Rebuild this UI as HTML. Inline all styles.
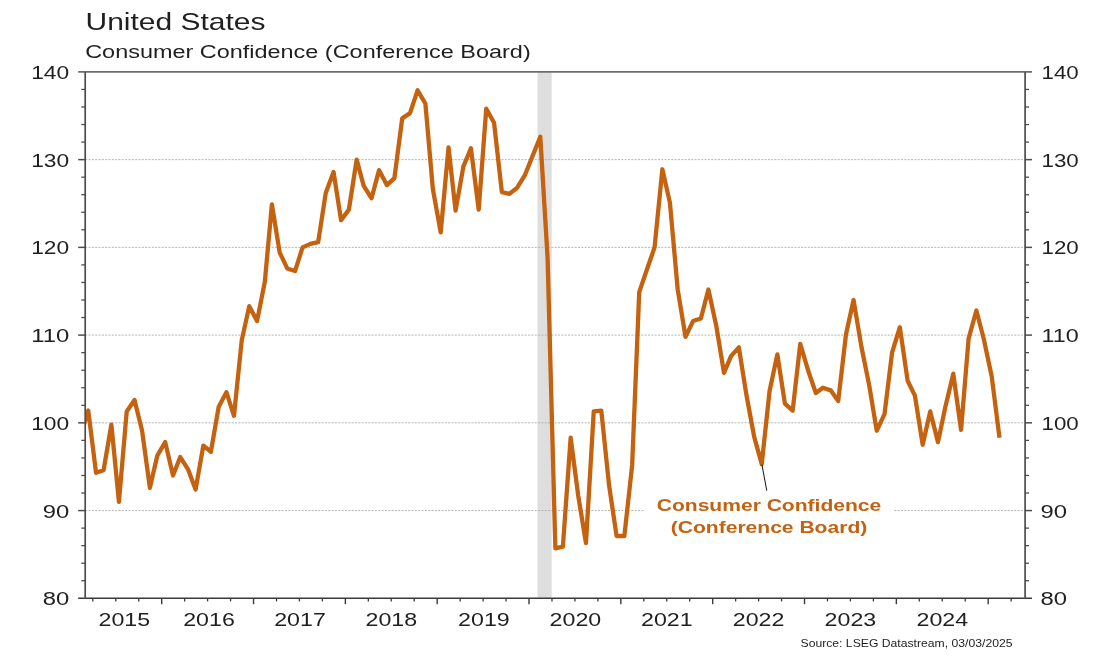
<!DOCTYPE html>
<html lang="en"><head><meta charset="utf-8"><title>United States - Consumer Confidence (Conference Board)</title>
<style>html,body{margin:0;padding:0;background:#fff}body{width:1103px;height:662px;overflow:hidden}svg{display:block;filter:blur(0.4px)}</style>
</head><body>
<svg width="1103" height="662" viewBox="0 0 1103 662" font-family="'Liberation Sans', Arial, sans-serif">
<rect width="1103" height="662" fill="#fff"/>
<defs><clipPath id="plot"><rect x="85.2" y="71.9" width="939.9" height="526.4"/></clipPath></defs>
<rect x="537.5" y="71.9" width="14.2" height="526.4" fill="#dedede"/>
<line x1="85.2" x2="1025.1" y1="510.57" y2="510.57" stroke="#b4b4b4" stroke-width="1" stroke-dasharray="2 1.33"/>
<line x1="85.2" x2="1025.1" y1="422.83" y2="422.83" stroke="#b4b4b4" stroke-width="1" stroke-dasharray="2 1.33"/>
<line x1="85.2" x2="1025.1" y1="335.10" y2="335.10" stroke="#b4b4b4" stroke-width="1" stroke-dasharray="2 1.33"/>
<line x1="85.2" x2="1025.1" y1="247.37" y2="247.37" stroke="#b4b4b4" stroke-width="1" stroke-dasharray="2 1.33"/>
<line x1="85.2" x2="1025.1" y1="159.63" y2="159.63" stroke="#b4b4b4" stroke-width="1" stroke-dasharray="2 1.33"/>
<rect x="645" y="494" width="249" height="46" fill="#fff"/>
<path d="M81.19 433.36 L88.24 410.55 L96.04 472.84 L103.58 470.21 L111.38 424.59 L118.93 501.79 L126.73 411.43 L134.53 400.02 L142.08 430.73 L149.88 487.76 L157.42 455.29 L165.21 442.13 L172.99 475.47 L180.27 457.05 L188.04 469.33 L195.57 489.51 L203.35 445.64 L210.88 451.79 L218.65 407.04 L226.43 392.13 L233.96 415.81 L241.74 340.36 L249.26 306.15 L257.05 321.06 L264.85 281.58 L271.90 204.38 L279.70 252.63 L287.24 268.42 L295.04 271.05 L302.59 247.37 L310.39 243.86 L318.19 242.10 L325.74 192.97 L333.54 171.92 L341.08 220.17 L348.88 209.64 L356.68 159.63 L363.73 185.95 L371.53 198.24 L379.07 170.16 L386.87 185.08 L394.42 178.06 L402.22 118.40 L410.02 113.13 L417.57 90.32 L425.37 103.48 L432.91 189.46 L440.71 232.45 L448.51 147.35 L455.56 210.52 L463.36 166.65 L470.90 148.23 L478.70 209.64 L486.25 108.75 L494.05 122.79 L501.85 192.09 L509.40 193.85 L517.20 187.71 L524.74 175.43 L532.53 156.12 L540.31 136.82 L547.59 257.89 L555.36 548.29 L562.89 546.54 L570.67 437.75 L578.20 495.65 L585.97 543.03 L593.75 411.43 L601.28 410.55 L609.06 485.12 L616.58 536.01 L624.37 536.01 L632.17 464.95 L639.22 292.11 L647.02 269.30 L654.56 247.37 L662.36 169.28 L669.91 202.62 L677.71 289.48 L685.51 336.85 L693.06 321.06 L700.86 318.43 L708.40 289.48 L716.20 325.45 L724.00 372.83 L731.05 356.16 L738.85 347.38 L746.39 394.76 L754.19 436.87 L761.74 464.07 L769.54 391.25 L777.34 354.40 L784.89 403.53 L792.69 410.55 L800.23 343.87 L808.03 370.19 L815.83 393.00 L822.88 387.74 L830.68 390.37 L838.22 400.90 L846.02 334.22 L853.57 300.01 L861.37 346.51 L869.17 385.11 L876.72 430.73 L884.52 414.06 L892.06 352.65 L899.85 327.20 L907.63 380.72 L914.91 395.64 L922.68 444.77 L930.21 411.43 L937.99 442.13 L945.52 406.16 L953.29 373.70 L961.07 429.85 L968.60 338.61 L976.38 310.53 L983.90 339.49 L991.69 376.33 L999.49 437.75" fill="none" stroke="#C4620F" stroke-width="4.3" stroke-linejoin="round" stroke-linecap="butt" clip-path="url(#plot)"/>
<line x1="78.2" x2="1032" y1="71.90" y2="71.90" stroke="#6e6e6e" stroke-width="1.7"/>
<line x1="78.2" x2="1032" y1="598.30" y2="598.30" stroke="#3a3a3a" stroke-width="1.6"/>
<line x1="85.20" x2="85.20" y1="71.90" y2="599.10" stroke="#4d4d4d" stroke-width="1.7"/>
<line x1="1025.10" x2="1025.10" y1="71.90" y2="599.10" stroke="#4d4d4d" stroke-width="1.7"/>
<line x1="81.3" x2="85.2" y1="580.75" y2="580.75" stroke="#4d4d4d" stroke-width="1.3"/>
<line x1="1025.1" x2="1029" y1="580.75" y2="580.75" stroke="#4d4d4d" stroke-width="1.3"/>
<line x1="81.3" x2="85.2" y1="563.21" y2="563.21" stroke="#4d4d4d" stroke-width="1.3"/>
<line x1="1025.1" x2="1029" y1="563.21" y2="563.21" stroke="#4d4d4d" stroke-width="1.3"/>
<line x1="81.3" x2="85.2" y1="545.66" y2="545.66" stroke="#4d4d4d" stroke-width="1.3"/>
<line x1="1025.1" x2="1029" y1="545.66" y2="545.66" stroke="#4d4d4d" stroke-width="1.3"/>
<line x1="81.3" x2="85.2" y1="528.11" y2="528.11" stroke="#4d4d4d" stroke-width="1.3"/>
<line x1="1025.1" x2="1029" y1="528.11" y2="528.11" stroke="#4d4d4d" stroke-width="1.3"/>
<line x1="81.3" x2="85.2" y1="493.02" y2="493.02" stroke="#4d4d4d" stroke-width="1.3"/>
<line x1="1025.1" x2="1029" y1="493.02" y2="493.02" stroke="#4d4d4d" stroke-width="1.3"/>
<line x1="81.3" x2="85.2" y1="475.47" y2="475.47" stroke="#4d4d4d" stroke-width="1.3"/>
<line x1="1025.1" x2="1029" y1="475.47" y2="475.47" stroke="#4d4d4d" stroke-width="1.3"/>
<line x1="81.3" x2="85.2" y1="457.93" y2="457.93" stroke="#4d4d4d" stroke-width="1.3"/>
<line x1="1025.1" x2="1029" y1="457.93" y2="457.93" stroke="#4d4d4d" stroke-width="1.3"/>
<line x1="81.3" x2="85.2" y1="440.38" y2="440.38" stroke="#4d4d4d" stroke-width="1.3"/>
<line x1="1025.1" x2="1029" y1="440.38" y2="440.38" stroke="#4d4d4d" stroke-width="1.3"/>
<line x1="81.3" x2="85.2" y1="405.29" y2="405.29" stroke="#4d4d4d" stroke-width="1.3"/>
<line x1="1025.1" x2="1029" y1="405.29" y2="405.29" stroke="#4d4d4d" stroke-width="1.3"/>
<line x1="81.3" x2="85.2" y1="387.74" y2="387.74" stroke="#4d4d4d" stroke-width="1.3"/>
<line x1="1025.1" x2="1029" y1="387.74" y2="387.74" stroke="#4d4d4d" stroke-width="1.3"/>
<line x1="81.3" x2="85.2" y1="370.19" y2="370.19" stroke="#4d4d4d" stroke-width="1.3"/>
<line x1="1025.1" x2="1029" y1="370.19" y2="370.19" stroke="#4d4d4d" stroke-width="1.3"/>
<line x1="81.3" x2="85.2" y1="352.65" y2="352.65" stroke="#4d4d4d" stroke-width="1.3"/>
<line x1="1025.1" x2="1029" y1="352.65" y2="352.65" stroke="#4d4d4d" stroke-width="1.3"/>
<line x1="81.3" x2="85.2" y1="317.55" y2="317.55" stroke="#4d4d4d" stroke-width="1.3"/>
<line x1="1025.1" x2="1029" y1="317.55" y2="317.55" stroke="#4d4d4d" stroke-width="1.3"/>
<line x1="81.3" x2="85.2" y1="300.01" y2="300.01" stroke="#4d4d4d" stroke-width="1.3"/>
<line x1="1025.1" x2="1029" y1="300.01" y2="300.01" stroke="#4d4d4d" stroke-width="1.3"/>
<line x1="81.3" x2="85.2" y1="282.46" y2="282.46" stroke="#4d4d4d" stroke-width="1.3"/>
<line x1="1025.1" x2="1029" y1="282.46" y2="282.46" stroke="#4d4d4d" stroke-width="1.3"/>
<line x1="81.3" x2="85.2" y1="264.91" y2="264.91" stroke="#4d4d4d" stroke-width="1.3"/>
<line x1="1025.1" x2="1029" y1="264.91" y2="264.91" stroke="#4d4d4d" stroke-width="1.3"/>
<line x1="81.3" x2="85.2" y1="229.82" y2="229.82" stroke="#4d4d4d" stroke-width="1.3"/>
<line x1="1025.1" x2="1029" y1="229.82" y2="229.82" stroke="#4d4d4d" stroke-width="1.3"/>
<line x1="81.3" x2="85.2" y1="212.27" y2="212.27" stroke="#4d4d4d" stroke-width="1.3"/>
<line x1="1025.1" x2="1029" y1="212.27" y2="212.27" stroke="#4d4d4d" stroke-width="1.3"/>
<line x1="81.3" x2="85.2" y1="194.73" y2="194.73" stroke="#4d4d4d" stroke-width="1.3"/>
<line x1="1025.1" x2="1029" y1="194.73" y2="194.73" stroke="#4d4d4d" stroke-width="1.3"/>
<line x1="81.3" x2="85.2" y1="177.18" y2="177.18" stroke="#4d4d4d" stroke-width="1.3"/>
<line x1="1025.1" x2="1029" y1="177.18" y2="177.18" stroke="#4d4d4d" stroke-width="1.3"/>
<line x1="81.3" x2="85.2" y1="142.09" y2="142.09" stroke="#4d4d4d" stroke-width="1.3"/>
<line x1="1025.1" x2="1029" y1="142.09" y2="142.09" stroke="#4d4d4d" stroke-width="1.3"/>
<line x1="81.3" x2="85.2" y1="124.54" y2="124.54" stroke="#4d4d4d" stroke-width="1.3"/>
<line x1="1025.1" x2="1029" y1="124.54" y2="124.54" stroke="#4d4d4d" stroke-width="1.3"/>
<line x1="81.3" x2="85.2" y1="106.99" y2="106.99" stroke="#4d4d4d" stroke-width="1.3"/>
<line x1="1025.1" x2="1029" y1="106.99" y2="106.99" stroke="#4d4d4d" stroke-width="1.3"/>
<line x1="81.3" x2="85.2" y1="89.45" y2="89.45" stroke="#4d4d4d" stroke-width="1.3"/>
<line x1="1025.1" x2="1029" y1="89.45" y2="89.45" stroke="#4d4d4d" stroke-width="1.3"/>
<line x1="78.2" x2="85.2" y1="510.57" y2="510.57" stroke="#4d4d4d" stroke-width="1.5"/>
<line x1="1025.1" x2="1032" y1="510.57" y2="510.57" stroke="#4d4d4d" stroke-width="1.5"/>
<line x1="78.2" x2="85.2" y1="422.83" y2="422.83" stroke="#4d4d4d" stroke-width="1.5"/>
<line x1="1025.1" x2="1032" y1="422.83" y2="422.83" stroke="#4d4d4d" stroke-width="1.5"/>
<line x1="78.2" x2="85.2" y1="335.10" y2="335.10" stroke="#4d4d4d" stroke-width="1.5"/>
<line x1="1025.1" x2="1032" y1="335.10" y2="335.10" stroke="#4d4d4d" stroke-width="1.5"/>
<line x1="78.2" x2="85.2" y1="247.37" y2="247.37" stroke="#4d4d4d" stroke-width="1.5"/>
<line x1="1025.1" x2="1032" y1="247.37" y2="247.37" stroke="#4d4d4d" stroke-width="1.5"/>
<line x1="78.2" x2="85.2" y1="159.63" y2="159.63" stroke="#4d4d4d" stroke-width="1.5"/>
<line x1="1025.1" x2="1032" y1="159.63" y2="159.63" stroke="#4d4d4d" stroke-width="1.5"/>
<line x1="92.83" x2="92.83" y1="598.3" y2="601.4" stroke="#3a3a3a" stroke-width="1.3"/>
<line x1="115.78" x2="115.78" y1="598.3" y2="601.4" stroke="#3a3a3a" stroke-width="1.3"/>
<line x1="138.74" x2="138.74" y1="598.3" y2="601.4" stroke="#3a3a3a" stroke-width="1.3"/>
<line x1="161.70" x2="161.70" y1="598.3" y2="604.2" stroke="#3a3a3a" stroke-width="1.4"/>
<line x1="184.66" x2="184.66" y1="598.3" y2="601.4" stroke="#3a3a3a" stroke-width="1.3"/>
<line x1="207.61" x2="207.61" y1="598.3" y2="601.4" stroke="#3a3a3a" stroke-width="1.3"/>
<line x1="230.57" x2="230.57" y1="598.3" y2="601.4" stroke="#3a3a3a" stroke-width="1.3"/>
<line x1="253.53" x2="253.53" y1="598.3" y2="604.2" stroke="#3a3a3a" stroke-width="1.4"/>
<line x1="276.49" x2="276.49" y1="598.3" y2="601.4" stroke="#3a3a3a" stroke-width="1.3"/>
<line x1="299.44" x2="299.44" y1="598.3" y2="601.4" stroke="#3a3a3a" stroke-width="1.3"/>
<line x1="322.40" x2="322.40" y1="598.3" y2="601.4" stroke="#3a3a3a" stroke-width="1.3"/>
<line x1="345.36" x2="345.36" y1="598.3" y2="604.2" stroke="#3a3a3a" stroke-width="1.4"/>
<line x1="368.32" x2="368.32" y1="598.3" y2="601.4" stroke="#3a3a3a" stroke-width="1.3"/>
<line x1="391.27" x2="391.27" y1="598.3" y2="601.4" stroke="#3a3a3a" stroke-width="1.3"/>
<line x1="414.23" x2="414.23" y1="598.3" y2="601.4" stroke="#3a3a3a" stroke-width="1.3"/>
<line x1="437.19" x2="437.19" y1="598.3" y2="604.2" stroke="#3a3a3a" stroke-width="1.4"/>
<line x1="460.15" x2="460.15" y1="598.3" y2="601.4" stroke="#3a3a3a" stroke-width="1.3"/>
<line x1="483.10" x2="483.10" y1="598.3" y2="601.4" stroke="#3a3a3a" stroke-width="1.3"/>
<line x1="506.06" x2="506.06" y1="598.3" y2="601.4" stroke="#3a3a3a" stroke-width="1.3"/>
<line x1="529.02" x2="529.02" y1="598.3" y2="604.2" stroke="#3a3a3a" stroke-width="1.4"/>
<line x1="551.98" x2="551.98" y1="598.3" y2="601.4" stroke="#3a3a3a" stroke-width="1.3"/>
<line x1="574.93" x2="574.93" y1="598.3" y2="601.4" stroke="#3a3a3a" stroke-width="1.3"/>
<line x1="597.89" x2="597.89" y1="598.3" y2="601.4" stroke="#3a3a3a" stroke-width="1.3"/>
<line x1="620.85" x2="620.85" y1="598.3" y2="604.2" stroke="#3a3a3a" stroke-width="1.4"/>
<line x1="643.81" x2="643.81" y1="598.3" y2="601.4" stroke="#3a3a3a" stroke-width="1.3"/>
<line x1="666.76" x2="666.76" y1="598.3" y2="601.4" stroke="#3a3a3a" stroke-width="1.3"/>
<line x1="689.72" x2="689.72" y1="598.3" y2="601.4" stroke="#3a3a3a" stroke-width="1.3"/>
<line x1="712.68" x2="712.68" y1="598.3" y2="604.2" stroke="#3a3a3a" stroke-width="1.4"/>
<line x1="735.64" x2="735.64" y1="598.3" y2="601.4" stroke="#3a3a3a" stroke-width="1.3"/>
<line x1="758.60" x2="758.60" y1="598.3" y2="601.4" stroke="#3a3a3a" stroke-width="1.3"/>
<line x1="781.55" x2="781.55" y1="598.3" y2="601.4" stroke="#3a3a3a" stroke-width="1.3"/>
<line x1="804.51" x2="804.51" y1="598.3" y2="604.2" stroke="#3a3a3a" stroke-width="1.4"/>
<line x1="827.47" x2="827.47" y1="598.3" y2="601.4" stroke="#3a3a3a" stroke-width="1.3"/>
<line x1="850.42" x2="850.42" y1="598.3" y2="601.4" stroke="#3a3a3a" stroke-width="1.3"/>
<line x1="873.38" x2="873.38" y1="598.3" y2="601.4" stroke="#3a3a3a" stroke-width="1.3"/>
<line x1="896.34" x2="896.34" y1="598.3" y2="604.2" stroke="#3a3a3a" stroke-width="1.4"/>
<line x1="919.30" x2="919.30" y1="598.3" y2="601.4" stroke="#3a3a3a" stroke-width="1.3"/>
<line x1="942.25" x2="942.25" y1="598.3" y2="601.4" stroke="#3a3a3a" stroke-width="1.3"/>
<line x1="965.21" x2="965.21" y1="598.3" y2="601.4" stroke="#3a3a3a" stroke-width="1.3"/>
<line x1="988.17" x2="988.17" y1="598.3" y2="604.2" stroke="#3a3a3a" stroke-width="1.4"/>
<line x1="1011.13" x2="1011.13" y1="598.3" y2="601.4" stroke="#3a3a3a" stroke-width="1.3"/>
<text x="69.2" y="605.3" font-size="18.00" text-anchor="end" textLength="26.5" lengthAdjust="spacingAndGlyphs" fill="#1f1f1f">80</text>
<text x="1040.4" y="605.3" font-size="18.00" text-anchor="start" textLength="26.5" lengthAdjust="spacingAndGlyphs" fill="#1f1f1f">80</text>
<text x="69.2" y="517.6" font-size="18.00" text-anchor="end" textLength="26.5" lengthAdjust="spacingAndGlyphs" fill="#1f1f1f">90</text>
<text x="1040.4" y="517.6" font-size="18.00" text-anchor="start" textLength="26.5" lengthAdjust="spacingAndGlyphs" fill="#1f1f1f">90</text>
<text x="69.2" y="429.8" font-size="18.00" text-anchor="end" textLength="38.0" lengthAdjust="spacingAndGlyphs" fill="#1f1f1f">100</text>
<text x="1041.5" y="429.8" font-size="18.00" text-anchor="start" textLength="37.2" lengthAdjust="spacingAndGlyphs" fill="#1f1f1f">100</text>
<text x="69.2" y="342.1" font-size="18.00" text-anchor="end" textLength="38.0" lengthAdjust="spacingAndGlyphs" fill="#1f1f1f">110</text>
<text x="1041.5" y="342.1" font-size="18.00" text-anchor="start" textLength="37.2" lengthAdjust="spacingAndGlyphs" fill="#1f1f1f">110</text>
<text x="69.2" y="254.4" font-size="18.00" text-anchor="end" textLength="38.0" lengthAdjust="spacingAndGlyphs" fill="#1f1f1f">120</text>
<text x="1041.5" y="254.4" font-size="18.00" text-anchor="start" textLength="37.2" lengthAdjust="spacingAndGlyphs" fill="#1f1f1f">120</text>
<text x="69.2" y="166.6" font-size="18.00" text-anchor="end" textLength="38.0" lengthAdjust="spacingAndGlyphs" fill="#1f1f1f">130</text>
<text x="1041.5" y="166.6" font-size="18.00" text-anchor="start" textLength="37.2" lengthAdjust="spacingAndGlyphs" fill="#1f1f1f">130</text>
<text x="69.2" y="78.9" font-size="18.00" text-anchor="end" textLength="38.0" lengthAdjust="spacingAndGlyphs" fill="#1f1f1f">140</text>
<text x="1041.5" y="78.9" font-size="18.00" text-anchor="start" textLength="37.2" lengthAdjust="spacingAndGlyphs" fill="#1f1f1f">140</text>
<text x="124.3" y="625.8" font-size="17.80" text-anchor="middle" textLength="51.6" lengthAdjust="spacingAndGlyphs" fill="#1f1f1f">2015</text>
<text x="209.0" y="625.8" font-size="17.80" text-anchor="middle" textLength="51.6" lengthAdjust="spacingAndGlyphs" fill="#1f1f1f">2016</text>
<text x="300.0" y="625.8" font-size="17.80" text-anchor="middle" textLength="51.6" lengthAdjust="spacingAndGlyphs" fill="#1f1f1f">2017</text>
<text x="391.3" y="625.8" font-size="17.80" text-anchor="middle" textLength="51.6" lengthAdjust="spacingAndGlyphs" fill="#1f1f1f">2018</text>
<text x="483.9" y="625.8" font-size="17.80" text-anchor="middle" textLength="51.6" lengthAdjust="spacingAndGlyphs" fill="#1f1f1f">2019</text>
<text x="575.4" y="625.8" font-size="17.80" text-anchor="middle" textLength="51.6" lengthAdjust="spacingAndGlyphs" fill="#1f1f1f">2020</text>
<text x="666.8" y="625.8" font-size="17.80" text-anchor="middle" textLength="51.6" lengthAdjust="spacingAndGlyphs" fill="#1f1f1f">2021</text>
<text x="758.6" y="625.8" font-size="17.80" text-anchor="middle" textLength="51.6" lengthAdjust="spacingAndGlyphs" fill="#1f1f1f">2022</text>
<text x="850.4" y="625.8" font-size="17.80" text-anchor="middle" textLength="51.6" lengthAdjust="spacingAndGlyphs" fill="#1f1f1f">2023</text>
<text x="942.3" y="625.8" font-size="17.80" text-anchor="middle" textLength="51.6" lengthAdjust="spacingAndGlyphs" fill="#1f1f1f">2024</text>
<text x="85.5" y="29.5" font-size="24.20" text-anchor="start" textLength="180.0" lengthAdjust="spacingAndGlyphs" fill="#1f1f1f">United States</text>
<text x="85.2" y="57.6" font-size="18.80" text-anchor="start" textLength="445.5" lengthAdjust="spacingAndGlyphs" fill="#1f1f1f">Consumer Confidence (Conference Board)</text>
<text x="1012.5" y="647.2" font-size="10.40" text-anchor="end" textLength="212.0" lengthAdjust="spacingAndGlyphs" fill="#1f1f1f">Source: LSEG Datastream, 03/03/2025</text>
<line x1="761.9" y1="464.6" x2="766.8" y2="490.7" stroke="#111" stroke-width="1"/>
<text x="769.0" y="510.5" font-size="16.40" text-anchor="middle" textLength="224.5" lengthAdjust="spacingAndGlyphs" fill="#C4620F" font-weight="bold">Consumer Confidence</text>
<text x="769.0" y="533.0" font-size="16.40" text-anchor="middle" textLength="196.5" lengthAdjust="spacingAndGlyphs" fill="#C4620F" font-weight="bold">(Conference Board)</text>
</svg>
</body></html>
